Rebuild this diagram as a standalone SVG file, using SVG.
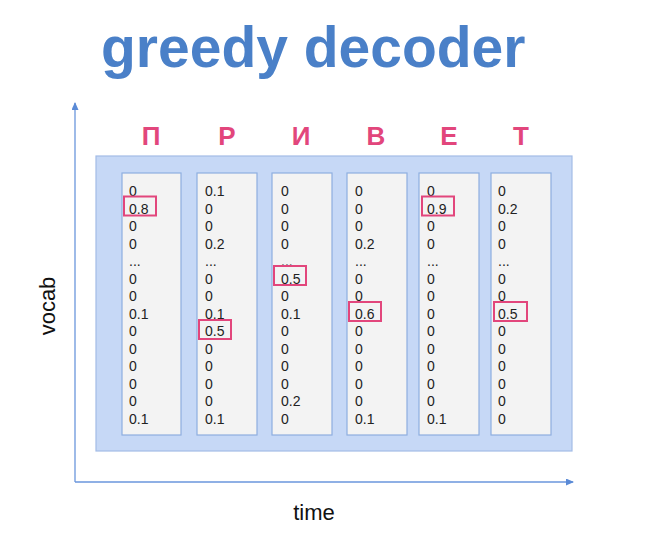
<svg xmlns="http://www.w3.org/2000/svg" width="670" height="535" viewBox="0 0 670 535">
<defs>
<marker id="ah" markerWidth="8" markerHeight="7" refX="7" refY="3.5" orient="auto" markerUnits="userSpaceOnUse">
<path d="M0,0 L8,3.5 L0,7 Z" fill="#5a8ad6"/>
</marker>
<style>
.title{font-family:"Liberation Sans",Arial,sans-serif;font-weight:bold;font-size:57px;fill:#4a80c8}
.ch{font-family:"Liberation Sans",Arial,sans-serif;font-weight:bold;font-size:26px;fill:#e2467c;text-anchor:middle}
.lbl{font-family:"Liberation Sans",Arial,sans-serif;font-size:22px;fill:#111;text-anchor:middle}
.col{fill:#f3f3f3;stroke:#8eaee0;stroke-width:1.2}
.num{font-family:"Liberation Sans",Arial,sans-serif;font-size:14px;fill:#222}
.hl{fill:none;stroke:#e2467c;stroke-width:2}
.axis{stroke:#6a96dc;stroke-width:1.3;fill:none}
</style>
</defs>
<rect width="670" height="535" fill="#ffffff"/>
<text class="title" x="101" y="67">greedy decoder</text>
<g id="letters">
<text class="ch" x="151" y="145">П</text>
<text class="ch" x="227" y="145">Р</text>
<text class="ch" x="301" y="145">И</text>
<text class="ch" x="376" y="145">В</text>
<text class="ch" x="449" y="145">Е</text>
<text class="ch" x="521" y="145">Т</text>
</g>
<g id="connectors">
<line class="axis" x1="75" y1="482" x2="75" y2="103" marker-end="url(#ah)"/>
<line class="axis" x1="75" y1="482" x2="573" y2="482" marker-end="url(#ah)"/>
</g>
<text class="lbl" transform="translate(55,306) rotate(-90)" x="0" y="0">vocab</text>
<text class="lbl" x="314" y="520">time</text>
<g id="frame">
<rect x="96" y="156" width="476" height="295" fill="#c6d8f6" stroke="#a3bce6" stroke-width="1.2"/>
</g>
<g id="col1">
<rect class="col" x="122" y="173" width="59" height="262"/>
<text class="num" x="129" y="196"><tspan x="129">0</tspan><tspan x="129" dy="17.5">0.8</tspan><tspan x="129" dy="17.5">0</tspan><tspan x="129" dy="17.5">0</tspan><tspan x="129" dy="17.5">...</tspan><tspan x="129" dy="17.5">0</tspan><tspan x="129" dy="17.5">0</tspan><tspan x="129" dy="17.5">0.1</tspan><tspan x="129" dy="17.5">0</tspan><tspan x="129" dy="17.5">0</tspan><tspan x="129" dy="17.5">0</tspan><tspan x="129" dy="17.5">0</tspan><tspan x="129" dy="17.5">0</tspan><tspan x="129" dy="17.5">0.1</tspan></text>
<rect class="hl" x="124" y="196.5" width="32" height="19"/>
</g>
<g id="col2">
<rect class="col" x="197" y="173" width="60" height="262"/>
<text class="num" x="205" y="196"><tspan x="205">0.1</tspan><tspan x="205" dy="17.5">0</tspan><tspan x="205" dy="17.5">0</tspan><tspan x="205" dy="17.5">0.2</tspan><tspan x="205" dy="17.5">...</tspan><tspan x="205" dy="17.5">0</tspan><tspan x="205" dy="17.5">0</tspan><tspan x="205" dy="17.5">0.1</tspan><tspan x="205" dy="17.5">0.5</tspan><tspan x="205" dy="17.5">0</tspan><tspan x="205" dy="17.5">0</tspan><tspan x="205" dy="17.5">0</tspan><tspan x="205" dy="17.5">0</tspan><tspan x="205" dy="17.5">0.1</tspan></text>
<rect class="hl" x="199" y="320" width="32" height="19"/>
</g>
<g id="col3">
<rect class="col" x="272" y="173" width="60" height="262"/>
<text class="num" x="281" y="196"><tspan x="281">0</tspan><tspan x="281" dy="17.5">0</tspan><tspan x="281" dy="17.5">0</tspan><tspan x="281" dy="17.5">0</tspan><tspan x="281" dy="17.5">...</tspan><tspan x="281" dy="17.5">0.5</tspan><tspan x="281" dy="17.5">0</tspan><tspan x="281" dy="17.5">0.1</tspan><tspan x="281" dy="17.5">0</tspan><tspan x="281" dy="17.5">0</tspan><tspan x="281" dy="17.5">0</tspan><tspan x="281" dy="17.5">0</tspan><tspan x="281" dy="17.5">0.2</tspan><tspan x="281" dy="17.5">0</tspan></text>
<rect class="hl" x="274" y="266" width="32" height="19"/>
</g>
<g id="col4">
<rect class="col" x="347" y="173" width="60" height="262"/>
<text class="num" x="355" y="196"><tspan x="355">0</tspan><tspan x="355" dy="17.5">0</tspan><tspan x="355" dy="17.5">0</tspan><tspan x="355" dy="17.5">0.2</tspan><tspan x="355" dy="17.5">...</tspan><tspan x="355" dy="17.5">0</tspan><tspan x="355" dy="17.5">0</tspan><tspan x="355" dy="17.5">0.6</tspan><tspan x="355" dy="17.5">0</tspan><tspan x="355" dy="17.5">0</tspan><tspan x="355" dy="17.5">0</tspan><tspan x="355" dy="17.5">0</tspan><tspan x="355" dy="17.5">0</tspan><tspan x="355" dy="17.5">0.1</tspan></text>
<rect class="hl" x="349" y="302" width="32" height="19"/>
</g>
<g id="col5">
<rect class="col" x="419" y="173" width="60" height="262"/>
<text class="num" x="427" y="196"><tspan x="427">0</tspan><tspan x="427" dy="17.5">0.9</tspan><tspan x="427" dy="17.5">0</tspan><tspan x="427" dy="17.5">0</tspan><tspan x="427" dy="17.5">...</tspan><tspan x="427" dy="17.5">0</tspan><tspan x="427" dy="17.5">0</tspan><tspan x="427" dy="17.5">0</tspan><tspan x="427" dy="17.5">0</tspan><tspan x="427" dy="17.5">0</tspan><tspan x="427" dy="17.5">0</tspan><tspan x="427" dy="17.5">0</tspan><tspan x="427" dy="17.5">0</tspan><tspan x="427" dy="17.5">0.1</tspan></text>
<rect class="hl" x="422" y="196.5" width="32" height="19"/>
</g>
<g id="col6">
<rect class="col" x="491" y="173" width="60" height="262"/>
<text class="num" x="498" y="196"><tspan x="498">0</tspan><tspan x="498" dy="17.5">0.2</tspan><tspan x="498" dy="17.5">0</tspan><tspan x="498" dy="17.5">0</tspan><tspan x="498" dy="17.5">...</tspan><tspan x="498" dy="17.5">0</tspan><tspan x="498" dy="17.5">0</tspan><tspan x="498" dy="17.5">0.5</tspan><tspan x="498" dy="17.5">0</tspan><tspan x="498" dy="17.5">0</tspan><tspan x="498" dy="17.5">0</tspan><tspan x="498" dy="17.5">0</tspan><tspan x="498" dy="17.5">0</tspan><tspan x="498" dy="17.5">0</tspan></text>
<rect class="hl" x="494" y="302" width="33" height="19"/>
</g>
</svg>
